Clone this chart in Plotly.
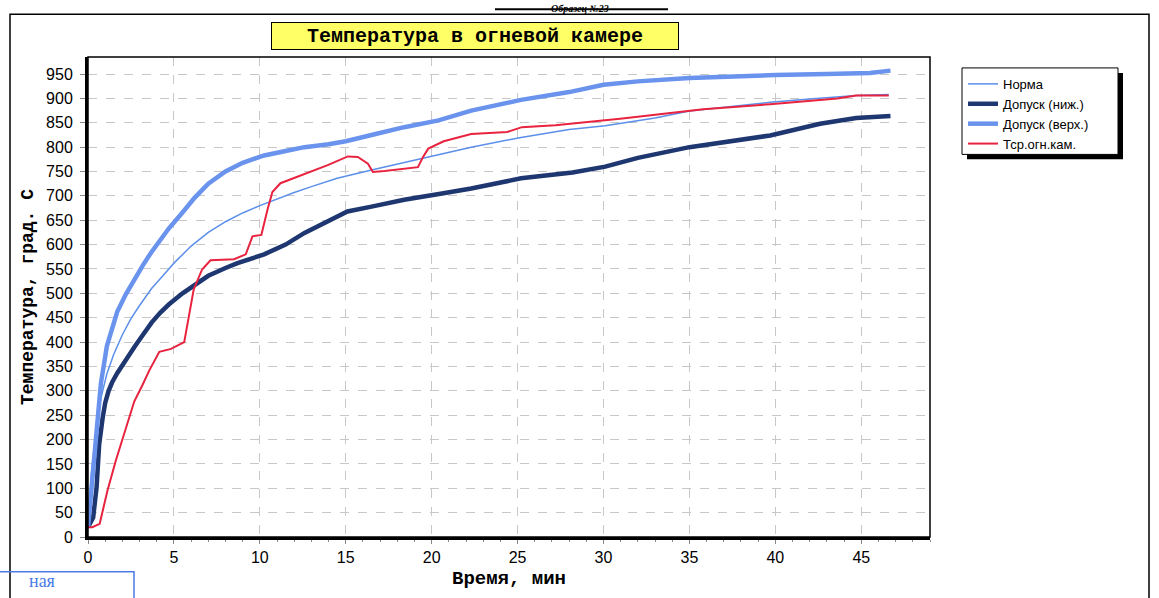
import plotly.graph_objects as go

# ---------------- data ----------------
norma_t = [0, 0.2, 0.45, 0.75, 1.1, 1.5, 2.0, 2.5, 3.0, 3.7, 4.5, 5.0, 6.0, 7.0, 8.0, 9.0, 10.0, 11.0, 12.0, 13.0, 14.5, 16.5, 18.4, 20.6, 22.3, 25.2, 28.0, 30.1, 33.0, 35.0, 37.5, 39.7, 42.0, 44.7, 46.6]
norma_T = [20, 130, 215, 285, 335, 375, 415, 448, 475, 510, 542, 562, 597, 625, 647, 665, 680, 694, 707, 719, 736, 753, 768, 786, 800, 820, 836, 844, 860, 874, 884, 892, 899, 906, 908]

low_t = [0, 0.3, 0.5, 0.65, 0.85, 1.0, 1.2, 1.4, 1.7, 2.2, 2.7, 3.2, 3.7, 4.2, 4.7, 5.5, 6.2, 7.0, 8.0, 8.7, 10.25, 11.5, 12.6, 14.0, 15.1, 16.5, 18.4, 20.6, 22.3, 25.2, 28.2, 30.1, 32.0, 35.0, 37.5, 39.7, 42.6, 44.7, 46.7]
low_T = [20, 40, 102, 190, 244, 275, 300, 317, 336, 364, 390, 415, 440, 460, 477, 500, 518, 536, 552, 562, 580, 600, 624, 650, 668, 678, 692, 705, 715, 736, 748, 760, 778, 800, 812, 824, 848, 860, 864]

up_t = [0, 0.15, 0.3, 0.45, 0.75, 1.1, 1.4, 1.7, 2.2, 2.7, 3.2, 3.7, 4.2, 4.7, 5.5, 6.2, 7.0, 8.0, 9.0, 10.25, 11.5, 12.6, 14.0, 15.0, 16.5, 18.4, 20.4, 22.3, 25.2, 28.0, 30.0, 32.0, 35.0, 37.0, 40.0, 43.0, 45.5, 46.7]
up_T = [20, 80, 150, 210, 315, 392, 430, 462, 498, 530, 558, 585, 610, 633, 666, 696, 725, 750, 768, 783, 792, 800, 806, 812, 825, 841, 855, 875, 897, 913, 928, 935, 942, 945, 948, 950, 952, 957]

red_t = [0, 0.25, 0.68, 1.13, 1.62, 2.1, 2.69, 3.17, 3.57, 4.15, 4.83, 5.6, 5.86, 6.15, 6.64, 7.13, 8.5, 9.18, 9.57, 10.09, 10.44, 10.73, 11.2, 12.2, 13.17, 13.95, 15.12, 15.7, 16.29, 16.58, 17.26, 18.04, 19.2, 19.5, 19.8, 20.7, 22.3, 24.4, 25.25, 27.2, 29.9, 31.1, 35.8, 39.7, 43.6, 44.7, 46.6]
red_T = [20, 20, 27, 95, 157, 210, 278, 312, 342, 380, 386, 400, 454, 508, 549, 568, 570, 580, 617, 620, 671, 708, 726, 739, 753, 763, 781, 780, 766, 749, 751, 754, 759, 780, 797, 812, 827, 831, 841, 845, 854, 859, 878, 888, 900, 906, 906]

series_names = ["Норма", "Допуск (ниж.)", "Допуск (верх.)", "Тср.огн.кам."]
title_text = "Температура в огневой камере"
x_title = "Время, мин"
y_title = "Температура, град. C"
x_ticks = [0, 5, 10, 15, 20, 25, 30, 35, 40, 45]
y_ticks = list(range(0, 1000, 50))

# ---------------- layout helpers ----------------
W, H = 1159, 598
L, R, T, B = 88, 930, 57, 540   # plot area in pixels


def px(x):
    return (x - L) / (R - L)


def py(y):
    return (B - y) / (B - T)


fig = go.Figure()
fig.add_trace(go.Scatter(x=norma_t, y=norma_T, name=series_names[0], mode="lines",
                         line=dict(color="#5B8FEA", width=1.5)))
fig.add_trace(go.Scatter(x=low_t, y=low_T, name=series_names[1], mode="lines",
                         line=dict(color="#1E3770", width=4.5)))
fig.add_trace(go.Scatter(x=up_t, y=up_T, name=series_names[2], mode="lines",
                         line=dict(color="#6A93EE", width=4.5)))
fig.add_trace(go.Scatter(x=red_t, y=red_T, name=series_names[3], mode="lines",
                         line=dict(color="#E8233F", width=2)))

mono = "Liberation Mono"
sans = "Liberation Sans"

shapes = [
    # plot-area box (thin top/right)
    dict(type="rect", xref="paper", yref="paper", x0=0, x1=1, y0=0, y1=1,
         line=dict(color="black", width=1.5), layer="above"),
    # outer frame
    dict(type="rect", xref="paper", yref="paper", x0=px(10), x1=px(1149), y0=py(14), y1=py(620),
         line=dict(color="black", width=1.5)),
    # legend shadow + box
    dict(type="rect", xref="paper", yref="paper", x0=px(967), x1=px(1123), y0=py(73), y1=py(160),
         line=dict(width=0), fillcolor="black"),
    dict(type="rect", xref="paper", yref="paper", x0=px(962), x1=px(1118), y0=py(68), y1=py(155),
         line=dict(color="black", width=1), fillcolor="white"),
    # top underline fragment
    dict(type="line", xref="paper", yref="paper", x0=px(495), x1=px(668), y0=py(9), y1=py(9),
         line=dict(color="black", width=2)),
    # bottom-left stamp fragment
    dict(type="rect", xref="paper", yref="paper", x0=px(-5), x1=px(134), y0=py(575), y1=py(640),
         line=dict(color="#4A7BE6", width=1.5)),
]

annotations = [
    dict(text=title_text, xref="paper", yref="paper", x=px(475), y=py(36),
         xanchor="center", yanchor="middle", width=402, height=22,
         showarrow=False, font=dict(family=mono, size=20, color="black", weight="bold"),
         bgcolor="#FFFF66", bordercolor="black", borderwidth=1, borderpad=2),
    dict(text="<i><b>Образец №23</b></i>", xref="paper", yref="paper", x=px(580), y=py(0.5),
         xanchor="center", yanchor="top",
         showarrow=False, font=dict(family="Liberation Serif", size=10, color="black")),
    dict(text="ная", xref="paper", yref="paper", x=px(42), y=py(596),
         xanchor="center", yanchor="bottom",
         showarrow=False, font=dict(family="Liberation Serif", size=18, color="#4A7BE6")),
]

fig.update_layout(
    width=W, height=H,
    margin=dict(l=L, r=W - R, t=T, b=H - B, pad=0),
    paper_bgcolor="white", plot_bgcolor="white",
    showlegend=True,
    legend=dict(x=px(963), y=py(69), xanchor="left", yanchor="top",
                bgcolor="rgba(0,0,0,0)", borderwidth=0,
                font=dict(family=sans, size=13, color="black"),
                itemwidth=30, tracegroupgap=0),
    shapes=shapes,
    annotations=annotations,
    xaxis=dict(range=[0, 49], tickvals=x_ticks, showgrid=True,
               gridcolor="#C8C8C8", griddash="dash", gridwidth=1,
               showline=True, linecolor="black", linewidth=3,
               ticks="outside", ticklen=4, tickcolor="#888",
               tickfont=dict(family=sans, size=16, color="black"),
               minor=dict(dtick=1, ticks="outside", ticklen=2, tickcolor="#888", showgrid=False),
               zeroline=False,
               title=dict(text=x_title, font=dict(family=mono, size=19, color="black", weight="bold"),
                          standoff=6)),
    yaxis=dict(range=[0, 985], tickvals=y_ticks, showgrid=True,
               gridcolor="#C8C8C8", griddash="dash", gridwidth=1,
               showline=True, linecolor="black", linewidth=3,
               ticks="outside", ticklen=5, tickcolor="#888",
               ticklabelstandoff=4,
               tickfont=dict(family=sans, size=16, color="black"),
               zeroline=False,
               title=dict(text=y_title, font=dict(family=mono, size=18, color="black", weight="bold"),
                          standoff=8)),
)

fig.write_html("out.html")
